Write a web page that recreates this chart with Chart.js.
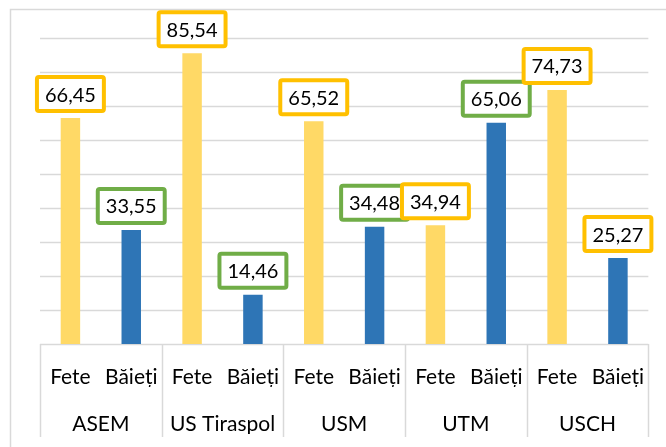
<!DOCTYPE html>
<html>
<head>
<meta charset="utf-8">
<script src="https://cdn.jsdelivr.net/npm/chart.js@4"></script>
<style>
 html,body{margin:0;padding:0;background:#fff;}
 #wrap{width:666px;height:447px;position:relative;}
</style>
</head>
<body>
<div id="wrap"><canvas id="c" width="666" height="447"></canvas></div>
<script>
const universities=["ASEM","US Tiraspol","USM","UTM","USCH"];
const genders=["Fete","Băieți"];
const fete=[66.45,85.54,65.52,34.94,74.73];
const baieti=[33.55,14.46,34.48,65.06,25.27];
const yTicks=[0,10,20,30,40,50,60,70,80,90];

const YELLOW="#FFD966", BLUE="#2E75B6";
const BOX_Y="#FFC000", BOX_G="#70AD47";
// border colour of each value box, in bar order
const boxFete=[BOX_Y,BOX_Y,BOX_Y,BOX_Y,BOX_Y];
const boxBaieti=[BOX_G,BOX_G,BOX_G,BOX_G,BOX_Y];
const GRID="#D9D9D9";
const FONT="Lato, 'Open Sans', sans-serif";

// 10 categories: Fete/Băieți for each university
const labels=[]; const dF=[]; const dB=[];
universities.forEach((u,i)=>{
 labels.push(genders[0],genders[1]);
 dF.push(fete[i],null); dB.push(null,baieti[i]);
});

const frame={id:"frame",beforeDraw(ch){
 const c=ch.ctx; c.save();
 c.strokeStyle=GRID; c.lineWidth=1.5;
 c.beginPath(); c.moveTo(10.5,447); c.lineTo(10.5,9.5); c.lineTo(666,9.5); c.stroke();
 c.restore();
}};

// horizontal gridlines, clipped to the plot area
const gridLines={id:"gridLines",beforeDatasetsDraw(ch){
 const y=ch.scales.y, a=ch.chartArea, c=ch.ctx;
 c.save(); c.strokeStyle=GRID; c.lineWidth=1.5;
 yTicks.forEach(v=>{
  const py=Math.round(y.getPixelForValue(v))+0.5;
  c.beginPath(); c.moveTo(a.left,py); c.lineTo(a.right,py); c.stroke();
 });
 c.restore();
}};

const separators={id:"separators",afterDraw(ch){
 const x=ch.scales.x, a=ch.chartArea, c=ch.ctx;
 const step=(x.getPixelForValue(1)-x.getPixelForValue(0));
 c.save(); c.strokeStyle=GRID; c.lineWidth=1.5;
 for(let g=0;g<=universities.length;g++){
  const px=Math.round(x.getPixelForValue(g*2)-step/2)+0.5;
  c.beginPath(); c.moveTo(px,a.bottom); c.lineTo(px,437); c.stroke();
 }
 c.restore();
}};

const valueBoxes={id:"valueBoxes",afterDatasetsDraw(ch){
 const c=ch.ctx; c.save();
 c.font="20px "+FONT; c.textAlign="center"; c.textBaseline="middle";
 const items=[];
 ch.data.datasets.forEach((ds,di)=>{
  ch.getDatasetMeta(di).data.forEach((el,i)=>{
   const v=ds.data[i]; if(v==null) return;
   items.push({i,el,v,col:ds.boxColors[Math.floor(i/2)]});
  });
 });
 items.sort((a,b)=>a.i-b.i);
 items.forEach(({el,v,col})=>{
  const t=v.toFixed(2).replace(".",",");
  const w=c.measureText(t).width+20, h=38;
  const x0=el.x-w/2, y0=el.y-5-h;
  c.fillStyle="#fff"; c.strokeStyle=col; c.lineWidth=4;
  c.beginPath(); c.roundRect(x0+2,y0+2,w-4,h-4,2); c.fill(); c.stroke();
  c.fillStyle="#000"; c.fillText(t,el.x,y0+h/2+1);
 });
 c.restore();
}};

new Chart(document.getElementById("c"),{
 type:"bar",
 data:{labels,datasets:[
  {label:"Fete",data:dF,backgroundColor:YELLOW,boxColors:boxFete},
  {label:"Băieți",data:dB,backgroundColor:BLUE,boxColors:boxBaieti}
 ]},
 options:{
  responsive:false,animation:false,
  layout:{padding:{left:40,right:17,top:38,bottom:13}},
  datasets:{bar:{grouped:false,barPercentage:0.32,categoryPercentage:1}},
  plugins:{legend:{display:false},tooltip:{enabled:false}},
  scales:{
   y:{min:0,max:90,afterBuildTicks:s=>{s.ticks=yTicks.map(v=>({value:v}));},
      afterFit:s=>{s.width=0;},
      ticks:{display:false},border:{display:false},grid:{display:false}},
   x:{offset:true,grid:{display:false,drawTicks:false},border:{display:false},
      afterFit:s=>{s.height=43;},
      ticks:{color:"#000",font:{family:FONT,size:21},padding:21,maxRotation:0,autoSkip:false}},
   x2:{type:"category",labels:universities,position:"bottom",offset:true,
      grid:{display:false,drawTicks:false},border:{display:false},
      afterFit:s=>{s.height=47;},
      ticks:{color:"#000",font:{family:FONT,size:21},padding:25,maxRotation:0,autoSkip:false}}
  }
 },
 plugins:[frame,gridLines,separators,valueBoxes]
});
</script>
</body>
</html>
